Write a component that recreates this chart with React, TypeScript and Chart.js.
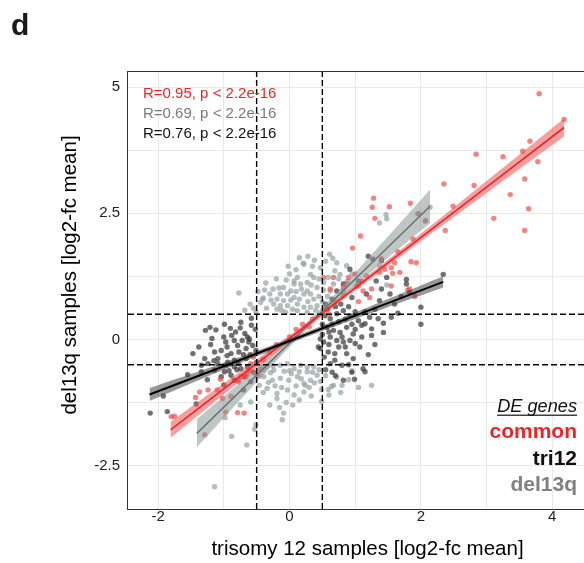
import React, { useEffect, useRef } from 'react';
import { Chart, registerables } from 'chart.js';

Chart.register(...registerables);

// ---- axis ranges & ticks ----
const X_MIN = -2.458;
const X_MAX = 4.833;
const Y_MIN = -3.36;
const Y_MAX = 5.3;
const xGridValues = [-2, -1, 0, 1, 2, 3, 4];
const xLabelValues = [-2, 0, 2, 4];
const yGridValues = [-2.5, -1.25, 0, 1.25, 2.5, 3.75, 5];
const yLabelValues = [-2.5, 0, 2.5, 5];
const thresholds = [-0.5, 0.5];

const xTitle = 'trisomy 12 samples [log2-fc mean]';
const yTitle = 'del13q samples [log2-fc mean]';
const panelLabel = 'd';
const statLabels = ['R=0.95, p < 2.2e-16', 'R=0.69, p < 2.2e-16', 'R=0.76, p < 2.2e-16'];
const legendTitle = 'DE genes';
const legendLabels = ['common', 'tri12', 'del13q'];

// ---- points: del13q-specific DE genes ----
const del13qPoints: number[][] = [
  [0.22, 1.49], [0.32, 1.29], [0.12, 1.23], [0.37, 1.23], [0.07, 1.1], [0.17, 1.1], [0.27, 1.13], [-0.09, 1.03],
  [0.02, 0.96], [-0.03, 0.9], [-0.14, 0.9], [-0.19, 0.8], [-0.09, 0.77], [0.07, 0.83], [0.22, 0.9], [0.32, 0.9],
  [0.37, 0.8], [0.42, 1.03], [-0.24, 0.7], [-0.14, 0.67], [-0.03, 0.67], [0.12, 0.7], [0.22, 0.64], [0.32, 0.64],
  [0.42, 0.67], [-0.19, 0.6], [-0.06, 0.54], [0.12, 0.57], [0.27, 0.54], [-0.77, 0.92], [-0.6, 0.7], [-0.44, 0.73],
  [-0.41, 0.8], [-0.51, 0.54], [0.21, 1.51], [0.38, 1.57], [0.61, 1.69], [0.66, 1.61], [-0.4, 0.82], [-0.16, 1.02],
  [0.07, 1.16], [0.47, 1.42], [0.69, 1.36], [0.77, 1.29], [0.59, 1.23], [0.52, 1.13], [0.67, 1.1], [0.27, 0.96],
  [0.62, 0.96], [0.82, 0.96], [1.05, 1.06], [1.37, 2.31], [1.47, 2.47], [1.48, 2.39], [1.95, 2.49], [2.07, 2.34],
  [2.14, 2.62], [1.37, 1.46], [1.48, 1.08], [0.87, 1.46], [0.0, 1.3], [-0.25, 1.0], [0.45, 0.85], [0.15, 0.8],
  [-0.35, 0.62], [0.05, 0.6], [0.35, 1.45], [0.5, 0.75], [0.55, 1.55], [0.72, 1.52], [-0.3, 0.9],
  [-0.55, 0.62], [-0.48, 0.95], [-0.36, 1.12], [-0.2, 1.2], [-0.05, 1.18], [0.1, 1.38], [0.28, 1.65], [0.45, 1.2],
  [0.52, 0.98], [0.58, 0.85], [0.18, 1.0], [-0.12, 0.58], [0.02, 0.78], [0.28, 0.75], [0.4, 0.58], [-0.28, 0.78],
  [-0.38, 0.98], [0.1, 0.95], [0.33, 1.08], [-0.02, 1.45], [0.15, 1.62], [0.75, 1.2], [0.88, 1.15], [0.95, 1.3],
  [-0.68, 0.58],
  [-0.34, -0.54], [-0.24, -0.61], [-0.14, -0.51], [-0.03, -0.48], [0.07, -0.58], [0.17, -0.51], [0.27, -0.64],
  [0.37, -0.54], [0.42, -0.71], [-0.39, -0.74], [-0.26, -0.81], [-0.14, -0.77], [-0.01, -0.81], [0.12, -0.74],
  [0.22, -0.87], [0.32, -0.81], [-0.34, -0.97], [-0.19, -1.07], [-0.03, -1.0], [0.07, -1.1], [0.22, -1.04],
  [-0.46, -0.91], [-0.19, -1.17], [-0.09, -1.46], [-0.11, -1.59], [-0.51, -1.69], [-0.65, -2.09], [-0.88, -1.92],
  [-1.14, -2.92], [-0.59, -1.24], [-0.53, -1.78], [-0.39, -0.61], [0.49, -0.99], [0.59, -0.99], [0.67, -0.91],
  [0.8, -0.91], [1.25, -0.91], [0.49, -1.23], [0.24, -0.91], [0.64, -0.93], [-0.29, -0.66], [-0.08, -0.63],
  [0.03, -0.68], [0.15, -0.64], [0.3, -0.95], [0.38, -0.86], [-0.22, -0.92], [-0.42, -0.55], [0.1, -0.92],
  [0.45, -0.6], [-0.05, -1.25], [0.15, -1.2], [-0.3, -1.3],
  [-0.45, -0.72], [-0.32, -0.85], [-0.12, -0.95], [0.0, -0.62], [0.18, -0.78], [0.35, -0.65], [0.55, -0.72],
  [0.72, -0.75], [0.9, -0.8], [1.05, -0.95], [0.6, -1.1], [0.33, -1.12], [-0.25, -0.52], [0.27, -0.55],
  [0.47, -0.83], [0.95, -0.62], [-0.15, -1.35], [0.05, -1.3], [-0.4, -1.05], [0.78, -1.05], [-0.98, -1.55],
  [-0.75, -1.3],
];

// ---- points: tri12-specific DE genes ----
const tri12Points: number[][] = [
  [-1.28, 0.18], [-1.21, 0.24], [-1.12, 0.19], [-0.74, 0.34], [-0.75, 0.23], [-0.97, -0.05], [-0.84, -0.02],
  [-0.79, -0.12], [-0.72, -0.02], [-0.61, 0.01], [-0.56, -0.12], [-0.66, -0.18], [-1.04, -0.22], [-1.14, -0.25],
  [-0.89, -0.28], [-0.77, -0.25], [-0.51, -0.22], [-1.47, -0.28], [-1.29, -0.38], [-1.09, -0.38], [-0.94, -0.45],
  [-0.84, -0.41], [-0.66, -0.38], [-0.64, 0.05], [-1.34, -0.51], [-1.24, -0.48], [-1.09, -0.48], [-0.97, -0.51],
  [-0.84, -0.54], [-0.74, -0.58], [-0.64, -0.54], [-1.34, -0.64], [-1.14, -0.61], [-0.99, -0.64], [-0.89, -0.71],
  [-1.04, -0.74], [-0.84, -0.81], [-0.69, -0.74], [-0.59, -0.84], [-2.12, -1.46], [-1.92, -1.12], [-1.86, -1.43],
  [-1.42, -1.28], [-0.58, 0.28], [-0.68, 0.12], [-0.88, 0.08], [-0.95, -0.15], [-1.2, -0.1], [-0.6, -0.3],
  [-0.8, -0.6], [-0.55, -0.65], [-1.0, -0.9], [-0.7, -1.0], [-1.55, -0.7], [-0.52, 0.2],
  [-1.38, -0.15], [-1.18, 0.02], [-1.0, 0.05], [-0.9, 0.22], [-0.82, 0.15], [-0.62, -0.05], [-0.7, -0.3],
  [-0.95, -0.32], [-1.15, -0.42], [-0.78, -0.48], [-0.5, -0.45], [-1.25, -0.8], [-0.92, -0.62], [-0.58, 0.42],
  [-0.99, 0.3],
  [0.54, 0.47], [0.62, 0.41], [0.72, 0.51], [0.82, 0.57], [0.92, 0.47], [1.05, 0.37], [1.15, 0.31], [1.22, 0.44],
  [1.35, 0.41], [1.43, 0.14], [1.25, 0.08], [1.1, 0.28], [2.0, 0.64], [2.0, 0.3], [1.65, 0.52], [0.57, 0.24],
  [0.67, 0.18], [0.77, 0.14], [0.87, 0.24], [0.97, 0.11], [0.62, 0.05], [0.72, -0.02], [0.82, -0.05], [0.92, -0.02],
  [1.0, -0.08], [1.07, -0.15], [0.52, -0.05], [0.47, -0.18], [0.59, -0.25], [0.69, -0.28], [0.87, -0.28],
  [0.97, -0.38], [0.62, -0.48], [0.69, -0.41], [0.8, -0.51], [1.12, -0.58], [1.15, -0.64], [0.82, -0.81],
  [0.99, -0.79], [0.44, -0.15], [0.47, 0.01], [1.2, 1.65], [1.27, 1.59], [1.4, 1.56], [0.92, 1.39], [1.32, 1.16],
  [1.4, 1.0], [1.78, 1.19], [1.83, 0.93], [2.34, 1.29], [1.17, 0.9], [1.05, 1.16], [0.82, 1.1], [0.72, 0.96],
  [0.95, 0.83], [1.37, 0.77], [1.53, 0.9], [1.55, 0.44], [1.43, 0.32], [1.25, 0.21], [1.78, 1.1], [1.48, 1.23],
  [0.55, 0.7], [0.65, 0.8], [0.78, 0.7], [0.5, 0.3], [0.6, -0.1], [0.75, 0.35], [0.9, 0.65], [1.0, 0.55],
  [0.53, -0.35], [0.65, -0.65], [0.85, -0.15], [1.1, 0.05],
  [0.58, 0.6], [0.7, 0.65], [0.85, 0.4], [0.95, 0.3], [1.15, 0.55], [1.3, 0.6], [0.75, -0.15], [0.9, -0.5],
  [0.55, -0.6], [0.7, -0.72], [1.2, -0.3], [1.3, -0.1], [0.65, 0.3], [0.8, 0.05], [1.0, 0.2], [1.6, 0.7],
  [1.7, 0.85], [0.95, -0.65], [0.5, 0.1], [0.6, 0.15],
];

// ---- points: common DE genes ----
const commonPoints: number[][] = [
  [3.8, 4.87], [4.18, 4.36], [3.66, 3.93], [3.55, 3.73], [3.78, 3.52], [3.25, 3.62], [2.84, 3.67], [2.81, 3.05],
  [3.36, 2.87], [3.58, 3.18], [3.64, 2.59], [3.58, 2.16], [3.11, 2.4], [2.35, 3.08], [2.49, 2.64], [2.37, 2.16],
  [1.28, 2.8], [1.26, 2.62], [1.52, 2.63], [1.3, 2.4], [1.84, 2.7], [1.97, 2.49], [2.07, 2.36], [1.08, 2.05],
  [0.96, 1.81], [1.88, 1.99], [1.85, 1.54], [1.93, 1.52], [1.8, 0.98], [1.91, 0.85], [1.68, 1.33], [1.57, 1.31],
  [1.65, 1.74], [1.6, 1.52], [1.55, 1.42], [1.45, 1.39], [1.37, 1.33], [1.17, 1.26], [1.1, 1.16], [1.02, 1.06],
  [1.12, 0.96], [1.25, 1.0], [0.9, 1.23], [0.82, 1.03], [1.55, 1.06], [0.62, 1.0], [0.82, 0.87], [1.05, 0.75],
  [1.22, 0.83], [1.83, 1.0], [0.67, 1.23], [0.52, 1.23],
  [-1.05, -0.79], [-1.37, -1.04], [-1.24, -1.0], [-1.43, -1.15], [-1.8, -1.53], [-1.75, -1.52], [-1.02, -1.17],
  [-0.79, -1.45], [-0.69, -1.46], [-1.29, -1.89], [-0.97, -1.44], [-0.89, -1.13], [-0.74, -0.74], [-0.64, -0.68],
  [-0.59, -0.48], [-0.79, -0.81], [-0.66, -0.74], [-0.61, -0.61], [-0.77, -0.84],
  [-0.4, -0.4], [-0.3, -0.25], [0.2, 0.3], [0.35, 0.4], [0.55, 0.62], [0.7, 0.75], [-0.55, -0.35], [-0.45, -0.6],
  [-0.2, -0.1], [0.0, 0.05], [0.1, 0.2], [0.3, 0.25], [-0.5, -0.7], [0.6, 0.5], [0.85, 1.1], [1.0, 1.3],
  [1.4, 1.6], [-1.1, -1.0],
];

// ---- fitted regression lines with 95% bands ----
const commonFitX = [-1.81, -0.6, 0.6, 1.8, 3.0, 4.18];
const commonFitY = [-1.79, -0.58, 0.62, 1.82, 3.02, 4.2];
const commonFitHalf = [0.16, 0.09, 0.05, 0.07, 0.12, 0.18];

const del13qFitX = [-1.41, -0.5, 0.3, 1.2, 2.14];
const del13qFitY = [-1.86, -0.71, 0.31, 1.45, 2.64];
const del13qFitHalf = [0.28, 0.14, 0.07, 0.16, 0.33];

const tri12FitX = [-2.13, -1.0, 0.0, 1.2, 2.34];
const tri12FitY = [-1.09, -0.53, -0.03, 0.57, 1.14];
const tri12FitHalf = [0.13, 0.07, 0.05, 0.07, 0.11];

const FONT = '"Liberation Sans", Arial, Helvetica, sans-serif';
const RED = '#e8262a';
const GRAY_TXT = '#808080';

const toXY = (pts: number[][]) => pts.map(([x, y]) => ({ x, y }));
const zipXY = (xs: number[], ys: number[]) => xs.map((x, i) => ({ x, y: ys[i] }));

function fitDatasets(xs: number[], ys: number[], half: number[], lineColor: string, bandColor: string, lineWidth: number, order: number) {
  const lo = ys.map((y, i) => y - half[i]);
  const hi = ys.map((y, i) => y + half[i]);
  return [
    { data: zipXY(xs, lo), borderWidth: 0, pointRadius: 0, fill: false, tension: 0.4, order: order + 1, borderColor: 'transparent' },
    { data: zipXY(xs, hi), borderWidth: 0, pointRadius: 0, fill: '-1', backgroundColor: bandColor, tension: 0.4, order: order + 1, borderColor: 'transparent' },
    { data: zipXY(xs, ys), borderWidth: lineWidth, pointRadius: 0, fill: false, borderColor: lineColor, tension: 0, order },
  ];
}

const annotPlugin = {
  id: 'annot',
  afterDraw(chart: any) {
    const { ctx, chartArea } = chart;
    ctx.save();
    // panel border
    ctx.strokeStyle = '#333';
    ctx.lineWidth = 1;
    ctx.strokeRect(chartArea.left - 0.5, chartArea.top - 0.5, chartArea.right - chartArea.left + 1, chartArea.bottom - chartArea.top + 1);

    // panel label
    ctx.fillStyle = '#1a1a1a';
    ctx.font = `bold 30px ${FONT}`;
    ctx.textAlign = 'left';
    ctx.textBaseline = 'alphabetic';
    ctx.fillText(panelLabel, 11, 35);

    // y axis title
    ctx.save();
    ctx.translate(70, 275);
    ctx.rotate(-Math.PI / 2);
    ctx.font = `20.5px ${FONT}`;
    ctx.fillStyle = '#000';
    ctx.textAlign = 'center';
    ctx.textBaseline = 'middle';
    ctx.fillText(yTitle, 0, 0);
    ctx.restore();

    // correlation statistics
    const statColors = [RED, '#7a7a7a', '#111'];
    const statBase = [98, 117.8, 137.6];
    ctx.font = `15px ${FONT}`;
    ctx.textAlign = 'left';
    statLabels.forEach((t, i) => {
      ctx.fillStyle = statColors[i];
      ctx.fillText(t, 143, statBase[i]);
    });

    // legend text
    const rightX = 577;
    ctx.textAlign = 'right';
    ctx.fillStyle = '#111';
    ctx.font = `italic 18.2px ${FONT}`;
    ctx.fillText(legendTitle, rightX, 412.3);
    const w = ctx.measureText(legendTitle).width;
    ctx.fillRect(rightX - w, 414.6, w, 1.2);
    const legColors = [RED, '#111', GRAY_TXT];
    const legBase = [437.8, 464.6, 491.4];
    ctx.font = `bold 21px ${FONT}`;
    legendLabels.forEach((t, i) => {
      ctx.fillStyle = legColors[i];
      ctx.fillText(t, rightX, legBase[i]);
    });
    ctx.restore();
  },
};

export default function App() {
  const ref = useRef<HTMLCanvasElement | null>(null);

  useEffect(() => {
    if (!ref.current) return;
    const pointBase = { showLine: false, pointRadius: 2.7, pointBorderWidth: 0, pointHoverRadius: 0 };
    const refLine = { borderColor: '#000', borderWidth: 1.4, borderDash: [6, 3], pointRadius: 0, fill: false, order: 0 };

    const datasets: any[] = [
      ...thresholds.map((v) => ({ ...refLine, data: [{ x: v, y: Y_MIN }, { x: v, y: Y_MAX }] })),
      ...thresholds.map((v) => ({ ...refLine, data: [{ x: X_MIN, y: v }, { x: X_MAX, y: v }] })),
      ...fitDatasets(tri12FitX, tri12FitY, tri12FitHalf, '#000', 'rgba(70,70,70,0.55)', 2, 1),
      ...fitDatasets(commonFitX, commonFitY, commonFitHalf, '#e8262a', 'rgba(240,80,80,0.55)', 1.6, 3),
      ...fitDatasets(del13qFitX, del13qFitY, del13qFitHalf, '#6b7474', 'rgba(140,152,152,0.55)', 1.6, 5),
      { ...pointBase, data: toXY(commonPoints), backgroundColor: 'rgba(238,64,64,0.65)', pointBackgroundColor: 'rgba(238,64,64,0.65)', order: 8 },
      { ...pointBase, data: toXY(tri12Points), backgroundColor: 'rgba(45,45,45,0.68)', pointBackgroundColor: 'rgba(45,45,45,0.68)', order: 9 },
      { ...pointBase, data: toXY(del13qPoints), backgroundColor: 'rgba(150,161,161,0.7)', pointBackgroundColor: 'rgba(150,161,161,0.7)', order: 10 },
    ];

    const tickFont = { family: FONT, size: 15, lineHeight: 1 };
    const chart = new Chart(ref.current, {
      type: 'line',
      data: { datasets },
      plugins: [annotPlugin],
      options: {
        animation: false,
        responsive: false,
        events: [],
        layout: { padding: { top: 72, left: 0, right: 3, bottom: 0 } },
        plugins: { legend: { display: false }, tooltip: { enabled: false } },
        scales: {
          x: {
            type: 'linear',
            min: X_MIN,
            max: X_MAX,
            afterBuildTicks: (s: any) => { s.ticks = xGridValues.map((value) => ({ value })); },
            afterFit: (s: any) => { s.height = 54; },
            grid: { color: '#e9e9e9', lineWidth: 1, drawTicks: false },
            border: { display: false },
            ticks: {
              autoSkip: false,
              maxRotation: 0,
              padding: 0,
              color: '#222',
              font: tickFont,
              callback: (v: any) => (xLabelValues.includes(v) ? String(v) : ''),
            },
            title: {
              display: true,
              text: xTitle,
              color: '#000',
              font: { family: FONT, size: 20.5, lineHeight: 1.2 },
              padding: { top: 0, bottom: 1 },
            },
          },
          y: {
            type: 'linear',
            min: Y_MIN,
            max: Y_MAX,
            afterBuildTicks: (s: any) => { s.ticks = yGridValues.map((value) => ({ value })); },
            afterFit: (s: any) => { s.width = 128; },
            grid: { color: '#e9e9e9', lineWidth: 1, drawTicks: false },
            border: { display: false },
            ticks: {
              autoSkip: false,
              padding: 8,
              color: '#222',
              font: tickFont,
              callback: (v: any) => (yLabelValues.includes(v) ? String(v) : ''),
            },
          },
        },
      } as any,
    });
    return () => chart.destroy();
  }, []);

  return (
    <div style={{ position: 'fixed', left: 0, top: 0, width: 584, height: 563, overflow: 'hidden', background: '#fff' }}>
      <canvas ref={ref} width={610} height={563} style={{ width: 610, height: 563, display: 'block' }} />
    </div>
  );
}
